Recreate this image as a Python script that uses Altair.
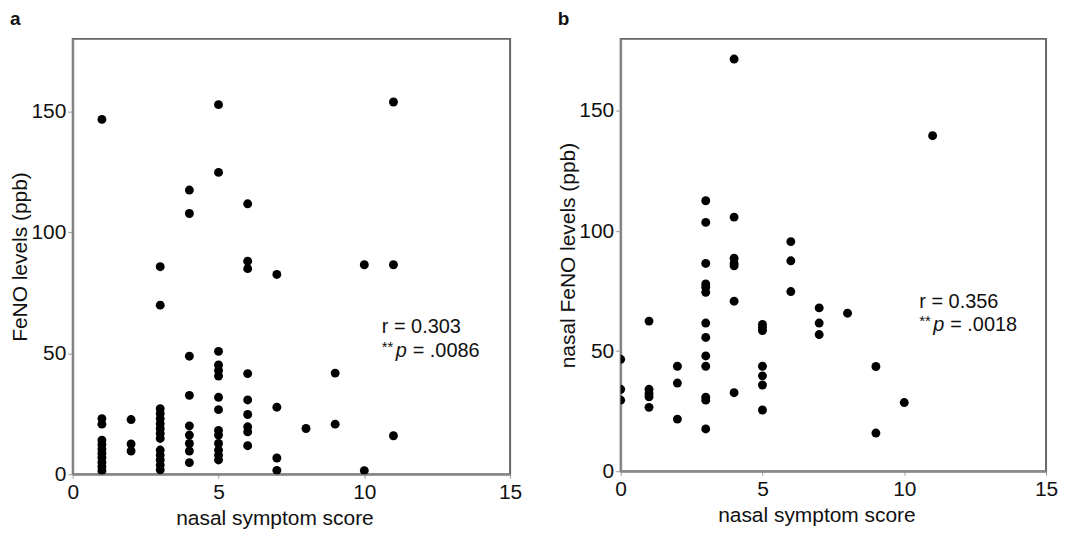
import altair as alt
import pandas as pd

FONT = "Liberation Sans"

# ---- panel a data: nasal symptom score vs FeNO (ppb) ----
a_scores = ([1] * 11 + [2] * 3 + [3] * 14 + [4] * 9 + [5] * 14 + [6] * 9 +
            [7] * 4 + [8] * 1 + [9] * 2 + [10] * 2 + [11] * 3)
a_feno = [
    23.0, 20.7, 14.1, 12.3, 10.4, 8.6, 6.8, 4.9, 3.1, 1.4, 146.7,
    22.6, 12.5, 9.6,
    85.8, 69.9, 27.1, 25.1, 23.0, 20.9, 18.9, 16.9, 14.8, 10.0, 7.9, 5.9, 3.8, 1.8,
    117.5, 107.8, 48.8, 32.6, 20.0, 16.2, 12.7, 9.6, 4.8,
    152.8, 124.8, 50.8, 45.2, 42.9, 40.6, 31.8, 26.7, 18.1, 16.2, 12.7, 10.0, 7.9, 5.9,
    111.8, 88.1, 85.0, 41.6, 30.7, 24.7, 19.6, 17.5, 11.8,
    82.6, 27.7, 6.7, 1.6,
    18.9,
    41.8, 20.7,
    86.6, 1.5,
    153.9, 86.6, 15.9,
]

# ---- panel b data: nasal symptom score vs nasal FeNO (ppb) ----
b_scores = ([0] * 3 + [1] * 5 + [2] * 3 + [3] * 13 + [4] * 7 + [5] * 7 + [6] * 3 +
            [7] * 3 + [8] * 1 + [9] * 2 + [10] * 1 + [11] * 1)
b_feno = [
    46.6, 34.1, 29.6,
    62.5, 34.1, 32.4, 31.0, 26.6,
    43.7, 36.7, 21.7,
    112.6, 103.6, 86.5, 78.0, 76.6, 74.5, 61.7, 55.7, 48.0, 43.7, 30.8, 29.6, 17.6,
    171.6, 105.8, 88.7, 86.5, 85.5, 70.8, 32.7,
    61.1, 59.8, 58.6, 43.7, 39.7, 35.9, 25.5,
    95.6, 87.6, 74.8,
    68.0, 61.7, 56.9,
    65.8,
    43.6, 15.9,
    28.6,
    139.7,
]

x_ticks = [0, 5, 10, 15]
y_ticks = [0, 50, 100, 150]

a_stats = ["r = 0.303", "= .0086"]
b_stats = ["r = 0.356", "= .0018"]


def panel(scores, feno, letter, ytitle, stats, w, h, ann_x, ann_y1, ann_y2):
    df = pd.DataFrame({"score": scores, "feno": feno})
    xscale = alt.Scale(domain=[0, 15], nice=False, zero=False)
    yscale = alt.Scale(domain=[0, 180], nice=False)
    xaxis = alt.Axis(values=x_ticks, title="nasal symptom score", grid=False,
                     labelFontSize=21, titleFontSize=21, titleFontWeight="normal",
                     labelFlush=False, labelOverlap=False, labelPadding=3,
                     titlePadding=5, tickSize=4, tickColor="#999",
                     domainColor="#888", domainWidth=2, labelColor="#111",
                     titleColor="#111", titleX=w / 2 - 17)
    yaxis = alt.Axis(values=y_ticks, title=ytitle, grid=False,
                     labelFontSize=21, titleFontSize=21, titleFontWeight="normal",
                     labelOverlap=False, labelPadding=2, titlePadding=0,
                     tickSize=5, tickColor="#999",
                     domainColor="#888", domainWidth=2, labelColor="#111",
                     titleColor="#111")
    pts = alt.Chart(df).mark_circle(size=80, color="black", opacity=1, clip=True).encode(
        x=alt.X("score:Q", scale=xscale, axis=xaxis),
        y=alt.Y("feno:Q", scale=yscale, axis=yaxis),
    )
    txt = dict(align="left", baseline="middle", font=FONT, color="#111")
    one = pd.DataFrame({"r": [stats[0]], "stars": ["**"], "p": ["p"], "pv": [stats[1]]})
    base = alt.Chart(one)
    t1 = base.mark_text(fontSize=20, **txt).encode(
        x=alt.datum(ann_x), y=alt.datum(ann_y1), text="r:N")
    t2a = base.mark_text(fontSize=15, dy=-4, **txt).encode(
        x=alt.datum(ann_x), y=alt.datum(ann_y2), text="stars:N")
    t2b = base.mark_text(fontSize=20, fontStyle="italic", dx=14, **txt).encode(
        x=alt.datum(ann_x), y=alt.datum(ann_y2), text="p:N")
    t2c = base.mark_text(fontSize=20, dx=31, **txt).encode(
        x=alt.datum(ann_x), y=alt.datum(ann_y2), text="pv:N")
    return alt.layer(pts, t1, t2a, t2b, t2c).properties(
        width=w, height=h,
        title=alt.TitleParams(letter, anchor="start", frame="bounds", fontSize=19,
                              fontWeight="bold", font=FONT, offset=10, dx=0, color="#111"),
    )


pa = panel(a_scores, a_feno, "a", "FeNO levels (ppb)", a_stats, 439, 437, 10.6, 60.8, 51.0)
pb = panel(b_scores, b_feno, "b", "nasal FeNO levels (ppb)", b_stats, 427, 434, 10.53, 70.5, 61.0)

chart = alt.hconcat(pa, pb, spacing=33).properties(
    padding={"left": 0, "top": 0, "right": 0, "bottom": 0}
).configure(font=FONT).configure_view(
    stroke="#666", strokeWidth=2
).configure_concat(spacing=33)

chart.save("out.html", embed_options={"renderer": "svg", "actions": False})
